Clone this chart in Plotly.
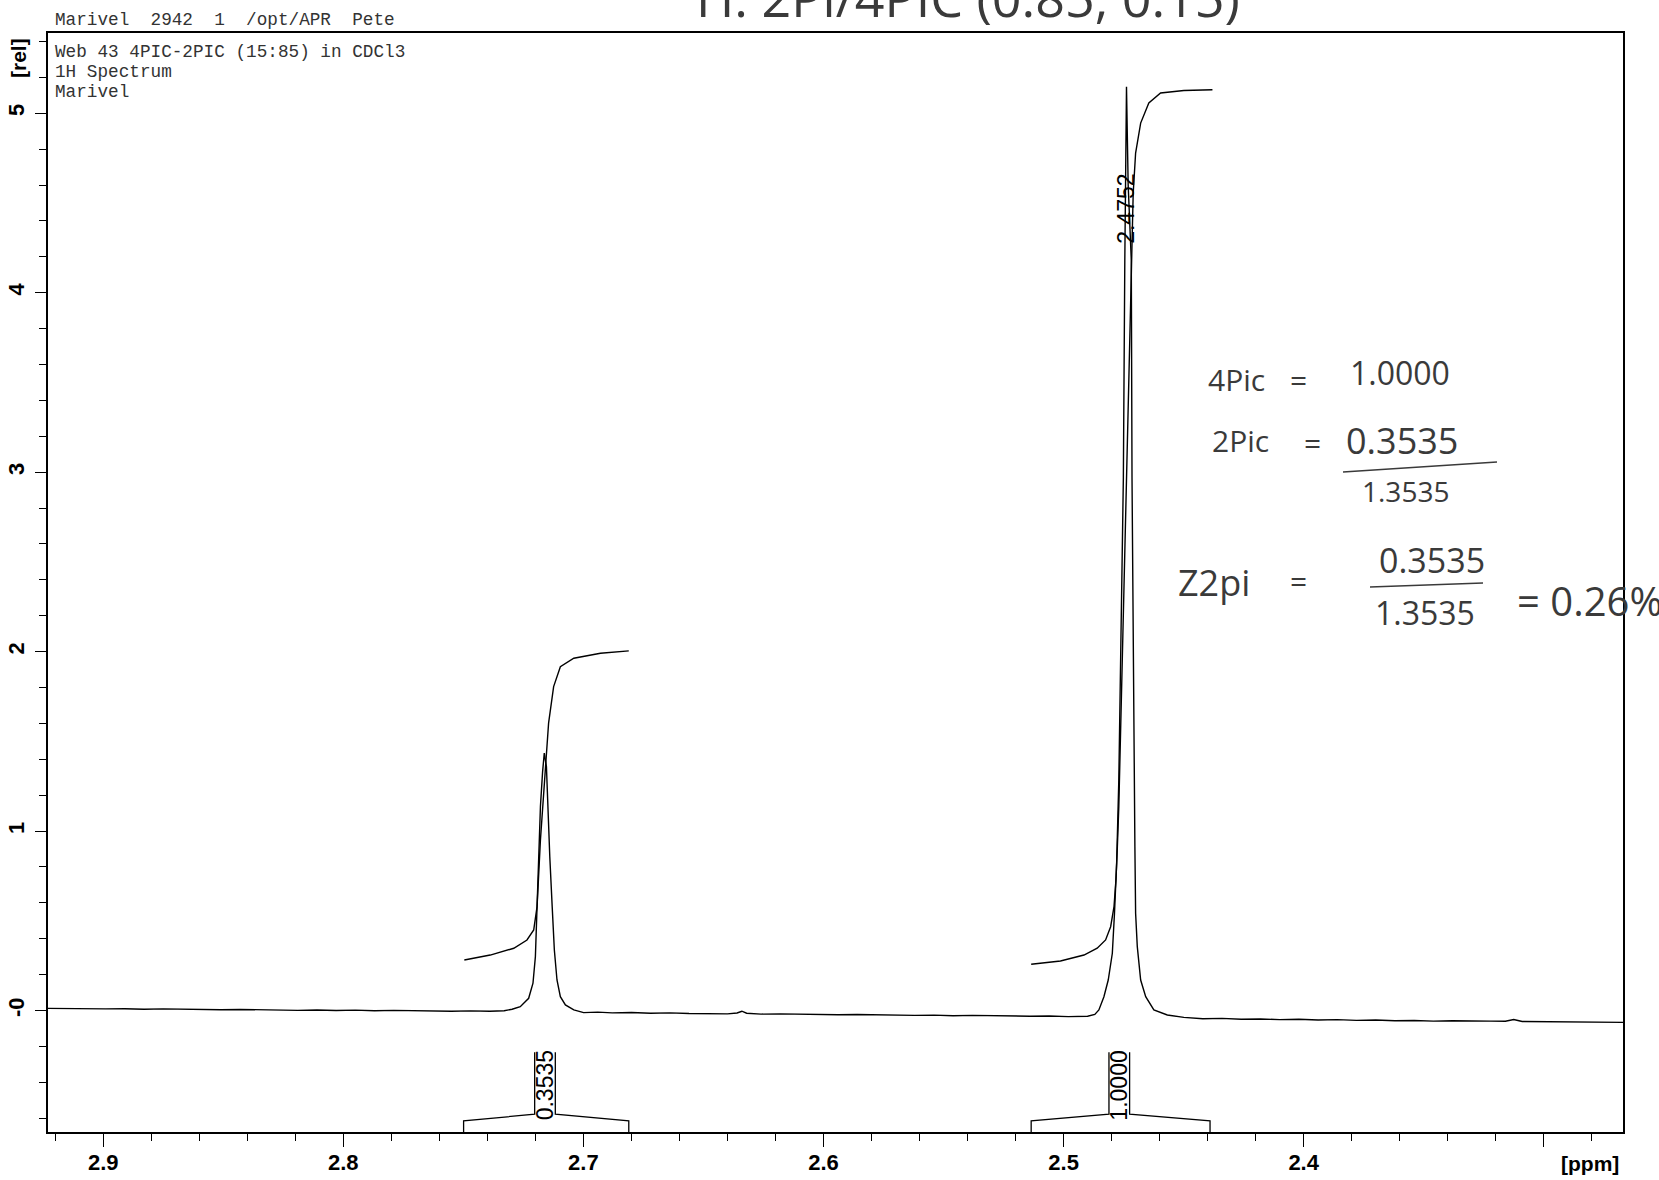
import plotly.graph_objects as go

# ---------------- data ----------------
spec_ppm = [2.923, 2.915, 2.907, 2.899, 2.891, 2.883, 2.875, 2.867, 2.859, 2.851,
            2.843, 2.835, 2.827, 2.819, 2.811, 2.803, 2.795, 2.787, 2.779, 2.771,
            2.763, 2.755, 2.747, 2.739, 2.733,
            2.7297, 2.7263, 2.7228, 2.7210, 2.7200, 2.7193, 2.7186, 2.7179, 2.7170, 2.7163,
            2.7154, 2.7149, 2.7140, 2.7130, 2.7121, 2.7110, 2.7096, 2.7075, 2.7040, 2.6999,
            2.694, 2.688, 2.680, 2.672, 2.664, 2.656, 2.648, 2.640, 2.636, 2.634, 2.632,
            2.626, 2.618, 2.610, 2.602, 2.594, 2.586, 2.578, 2.570, 2.562, 2.554,
            2.546, 2.538, 2.530, 2.522, 2.514, 2.506, 2.498, 2.490, 2.4870,
            2.4853, 2.4832, 2.4814, 2.4804, 2.4797, 2.4788, 2.4779, 2.4770, 2.4758, 2.4751,
            2.4745, 2.4738, 2.4731, 2.4718, 2.4715, 2.4707, 2.4703, 2.4700, 2.4693, 2.4679,
            2.4658, 2.4624, 2.4568, 2.4499,
            2.442, 2.434, 2.426, 2.418, 2.410, 2.402, 2.394, 2.386, 2.378, 2.370,
            2.362, 2.354, 2.346, 2.338, 2.330, 2.322, 2.316, 2.3125, 2.309, 2.300,
            2.292, 2.284, 2.276, 2.267]
spec_int = [0.012, 0.010, 0.012, 0.009, 0.010, 0.007, 0.009, 0.006, 0.007, 0.004,
            0.006, 0.003, 0.004, 0.001, 0.003, 0.000, 0.002, -0.001, 0.001, -0.002,
            -0.001, -0.004, -0.002, -0.004, -0.001,
            0.007, 0.021, 0.068, 0.152, 0.300, 0.579, 0.857, 1.136, 1.330, 1.434,
            1.359, 1.136, 0.857, 0.579, 0.337, 0.170, 0.077, 0.031, 0.003, -0.012,
            -0.009, -0.013, -0.011, -0.015, -0.013, -0.017, -0.016, -0.019, -0.014, -0.004, -0.015,
            -0.020, -0.019, -0.022, -0.021, -0.024, -0.022, -0.025, -0.024, -0.027, -0.026,
            -0.029, -0.027, -0.030, -0.029, -0.032, -0.031, -0.034, -0.032, -0.022,
            0.003, 0.077, 0.170, 0.244, 0.319, 0.542, 0.820, 1.285, 2.200, 2.970,
            4.180, 5.148, 4.600, 4.180, 2.970, 1.285, 0.913, 0.542, 0.356, 0.170,
            0.077, 0.003, -0.025, -0.038,
            -0.046, -0.044, -0.049, -0.047, -0.051, -0.049, -0.053, -0.051, -0.055, -0.053,
            -0.057, -0.056, -0.059, -0.057, -0.060, -0.059, -0.060, -0.050, -0.061, -0.062,
            -0.061, -0.064, -0.063, -0.066]

integ1_ppm = [2.7496, 2.7388, 2.7290, 2.7235, 2.7207, 2.7193, 2.7179, 2.7165, 2.7145,
              2.7124, 2.7096, 2.7040, 2.6929, 2.6811]
integ1_val = [0.2815, 0.309, 0.347, 0.393, 0.449, 0.579, 0.950, 1.229, 1.601,
              1.805, 1.916, 1.963, 1.991, 2.004]

integ2_ppm = [2.5135, 2.5013, 2.4915, 2.4860, 2.4825, 2.4804, 2.4790, 2.4782, 2.4776,
              2.4770, 2.4760, 2.4748, 2.4736, 2.4718, 2.4710, 2.4700, 2.4679, 2.4645,
              2.4596, 2.4499, 2.4380]
integ2_val = [0.2575, 0.276, 0.309, 0.347, 0.393, 0.467, 0.579, 0.727, 0.913,
              1.136, 1.700, 2.400, 2.976, 3.998, 4.555, 4.778, 4.945, 5.057,
              5.113, 5.127, 5.131]

region_start = [2.7499, 2.5135]
region_end = [2.6811, 2.4390]
region_center = [2.7160, 2.4768]
region_label = ["0.3535", "1.0000"]

peak_pos = [2.4738]
peak_text = ["2.4752"]
peak_label_y = [4.47]

x_tick_vals = [2.9, 2.8, 2.7, 2.6, 2.5, 2.4, 2.3]
x_tick_text = ["2.9", "2.8", "2.7", "2.6", "2.5", "2.4", ""]
y_tick_vals = [0, 1, 2, 3, 4, 5]
y_tick_text = ["-0", "1", "2", "3", "4", "5"]

# ---------------- geometry / style ----------------
X_RANGE = [2.923, 2.267]
Y_RANGE = [-0.677, 5.447]
BR_OUT, BR_IN, BR_TOP, BR_GAP = -0.615, -0.578, -0.232, 0.0043
W, H = 1659, 1180
ML, MR, MT, MB = 48, 36, 33, 48
PW, PH = W - ML - MR, H - MT - MB


def px(xp):
    return (xp - ML) / PW


def py(yp):
    return (H - MB - yp) / PH


LINE = dict(color="black", width=1.4)
fig = go.Figure()
fig.add_trace(go.Scatter(x=spec_ppm, y=spec_int, mode="lines", line=LINE, hoverinfo="skip"))
fig.add_trace(go.Scatter(x=integ1_ppm, y=integ1_val, mode="lines", line=LINE, hoverinfo="skip"))
fig.add_trace(go.Scatter(x=integ2_ppm, y=integ2_val, mode="lines", line=LINE, hoverinfo="skip"))

lab_font = dict(family="Liberation Sans", size=23, color="black")
for s, e, c, lab in zip(region_start, region_end, region_center, region_label):
    xs = [s, s, c + BR_GAP, c + BR_GAP, None, c - BR_GAP, c - BR_GAP, e, e]
    ys = [Y_RANGE[0], BR_OUT, BR_IN, BR_TOP, None, BR_TOP, BR_IN, BR_OUT, Y_RANGE[0]]
    fig.add_trace(go.Scatter(x=xs, y=ys, mode="lines", line=dict(color="black", width=1.3),
                             hoverinfo="skip", cliponaxis=False))
    fig.add_annotation(x=c, y=(BR_IN + BR_TOP) / 2 - 0.012, xref="x", yref="y", text=lab,
                       textangle=-90, showarrow=False, xanchor="center", yanchor="middle",
                       font=lab_font)

for p, t, yy in zip(peak_pos, peak_text, peak_label_y):
    fig.add_annotation(x=p, y=yy, xref="x", yref="y", text=t, textangle=-90, showarrow=False,
                       xanchor="center", yanchor="middle", font=lab_font)

mono = dict(family="Liberation Mono", size=17.7, color="#333")
header = [("Marivel  2942  1  /opt/APR  Pete", 20.5), ("Web 43 4PIC-2PIC (15:85) in CDCl3", 52),
          ("1H Spectrum", 72), ("Marivel", 92)]
for txt, yy in header:
    fig.add_annotation(x=px(53), y=py(yy), xref="paper", yref="paper", text=txt, showarrow=False,
                       xanchor="left", yanchor="middle", font=mono)

bold = dict(family="Liberation Sans", size=21, color="black", weight="bold")
fig.add_annotation(x=px(18), y=py(58), xref="paper", yref="paper", text="[rel]", textangle=-90,
                   showarrow=False, xanchor="center", yanchor="middle", font=bold)
fig.add_annotation(x=px(1590), y=py(1163), xref="paper", yref="paper", text="[ppm]",
                   showarrow=False, xanchor="center", yanchor="middle", font=bold)

# handwritten notes on the print-out
hand = dict(family="Open Sans", size=30, color="#3a3a3a")
notes = [("H: 2Pi/4PIC (0.85, 0.15)", 968, -3, "center", 52),
         ("4Pic", 1206, 379, "left", 30), ("=", 1298, 380, "center", 30), ("1.0000", 1348, 373, "left", 32),
         ("2Pic", 1210, 440, "left", 30), ("=", 1312, 442, "center", 30), ("0.3535", 1344, 440, "left", 36),
         ("1.3535", 1405, 491, "center", 28),
         ("Z2pi", 1176, 583, "left", 36), ("=", 1298, 580, "center", 30),
         ("0.3535", 1432, 560, "center", 34), ("1.3535", 1425, 612, "center", 32),
         ("= 0.26%", 1515, 600, "left", 40)]
for txt, xx, yy, anc, sz in notes:
    fig.add_annotation(x=px(xx), y=py(yy), xref="paper", yref="paper", text=txt, showarrow=False,
                       xanchor=anc, yanchor="middle", font=dict(hand, size=sz))
for x0, y0, x1, y1 in [(1343, 472, 1497, 462), (1370, 587, 1483, 583)]:
    fig.add_shape(type="line", xref="paper", yref="paper", x0=px(x0), y0=py(y0), x1=px(x1), y1=py(y1),
                  line=dict(color="#3a3a3a", width=1.6))

tickfont = dict(family="Liberation Sans", size=22, color="black", weight="bold")
fig.update_layout(
    width=W, height=H, margin=dict(l=ML, r=MR, t=MT, b=MB, autoexpand=False),
    paper_bgcolor="white", plot_bgcolor="white", showlegend=False,
    xaxis=dict(range=X_RANGE, tickmode="array", tickvals=x_tick_vals, ticktext=x_tick_text,
               ticks="outside", ticklen=13, tickwidth=1.3, tickcolor="black", automargin=False,
               showline=True, linecolor="black", linewidth=1.5, mirror=True,
               showgrid=False, zeroline=False, tickfont=tickfont, ticklabelstandoff=-3,
               minor=dict(ticks="outside", ticklen=7, tickwidth=1.2, tickcolor="black",
                          tickmode="linear", dtick=0.02, tick0=2.3, showgrid=False)),
    yaxis=dict(range=Y_RANGE, tickmode="array", tickvals=y_tick_vals, ticktext=y_tick_text,
               tickangle=-90, ticks="outside", ticklen=11, tickwidth=1.3, tickcolor="black",
               automargin=False,
               showline=True, linecolor="black", linewidth=1.5, mirror=True,
               showgrid=False, zeroline=False, tickfont=tickfont, ticklabelstandoff=2,
               minor=dict(ticks="outside", ticklen=7, tickwidth=1.2, tickcolor="black",
                          tickmode="linear", dtick=0.2, tick0=0, showgrid=False)),
)

fig.write_html("out.html", config={"displayModeBar": False},
               post_script="document.body.style.margin='0px';document.body.style.overflow='hidden';")
